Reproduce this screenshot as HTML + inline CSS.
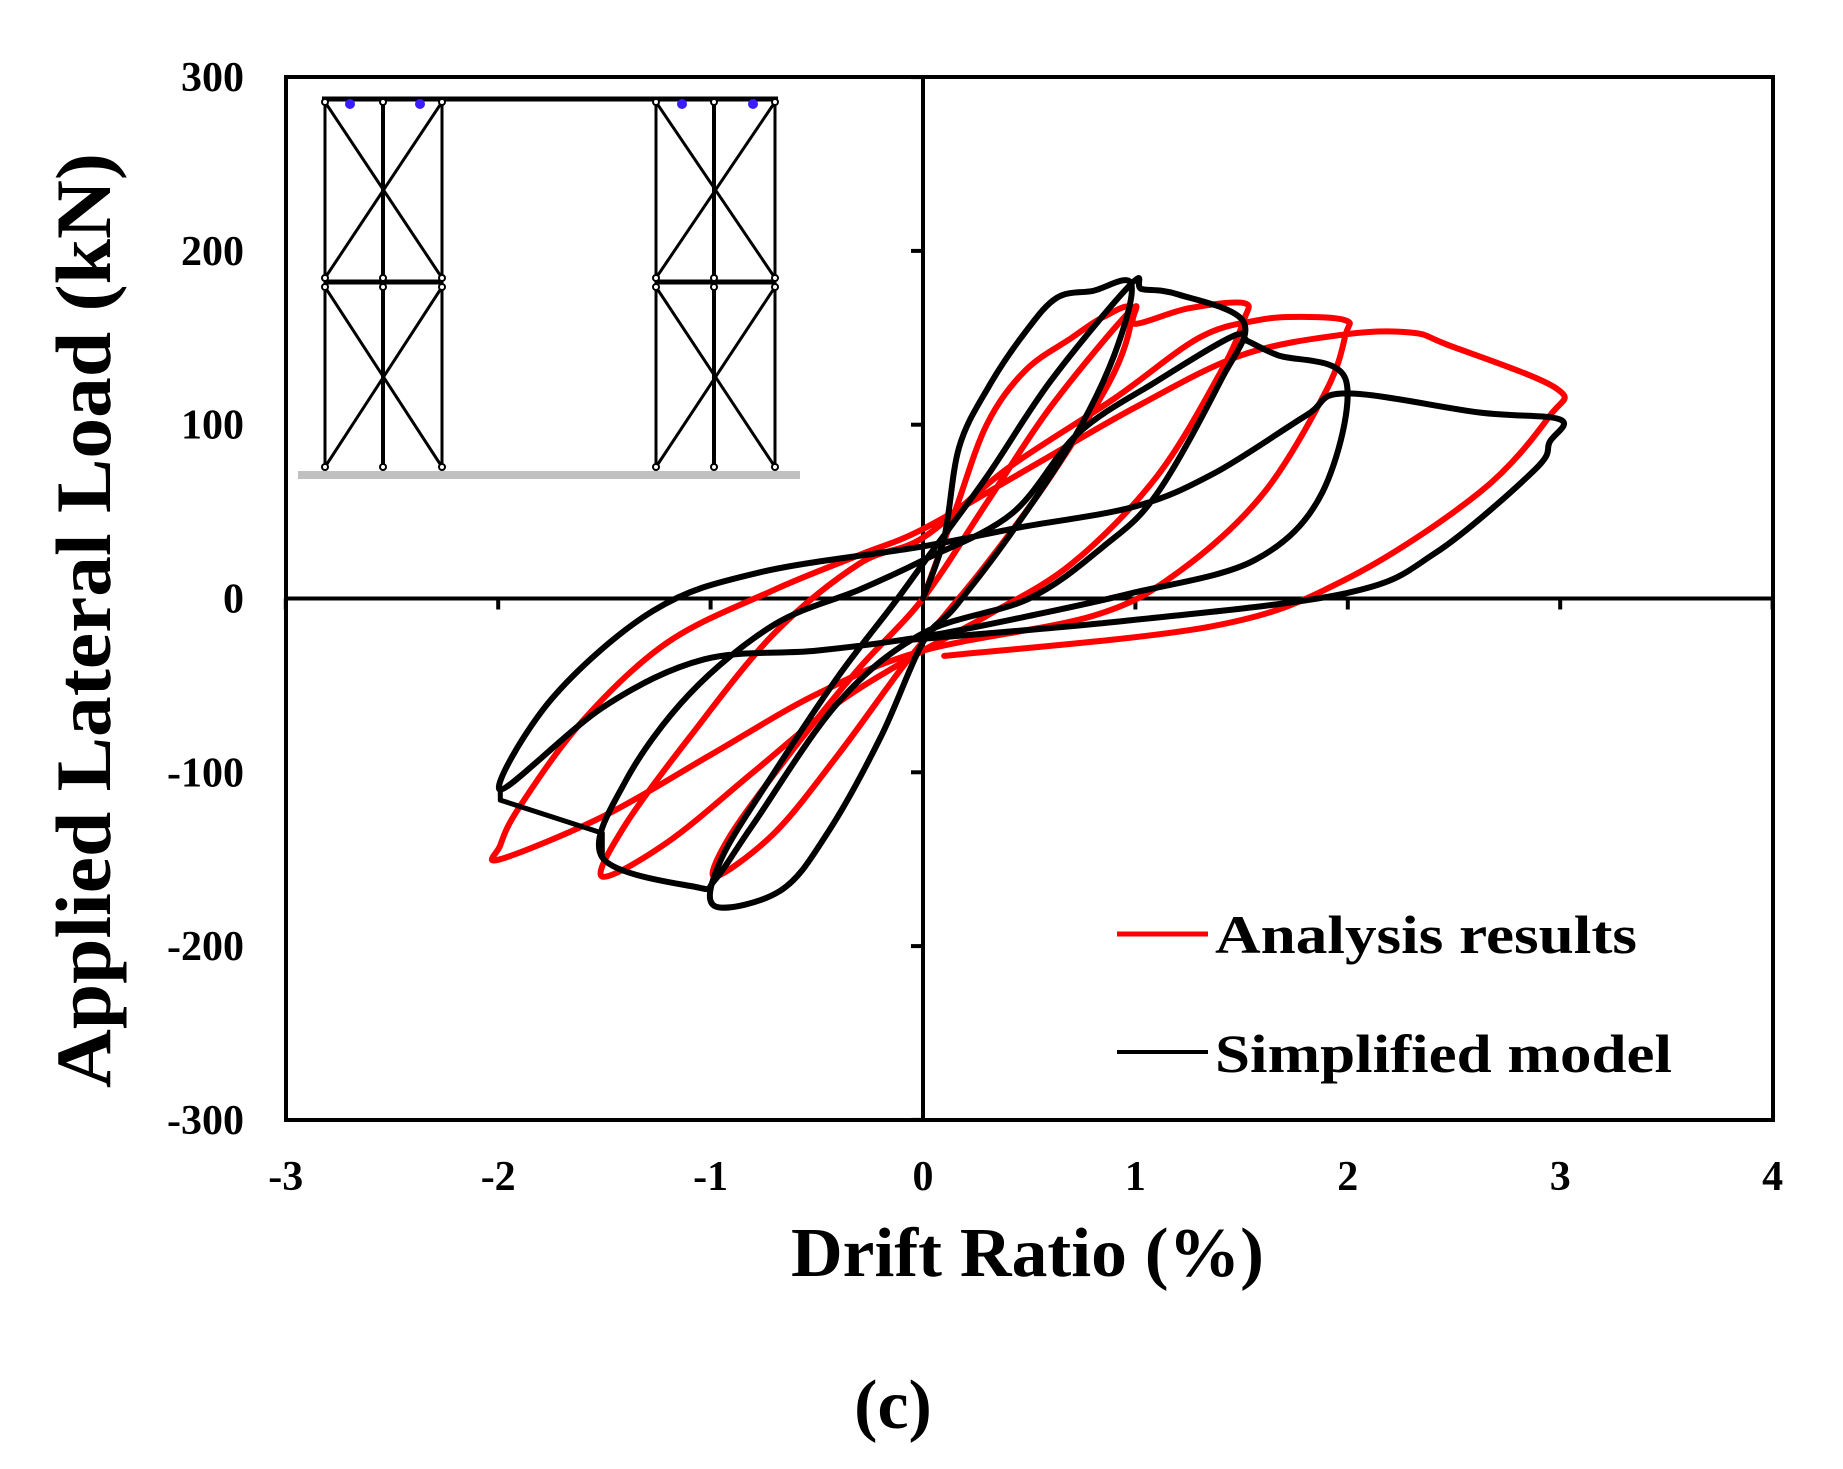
<!DOCTYPE html>
<html><head><meta charset="utf-8"><style>
html,body{margin:0;padding:0;background:#fff;}
svg{display:block;}
text{font-family:"Liberation Serif",serif;font-weight:bold;fill:#000;}
</style></head><body>
<svg id="chart" width="1843" height="1469" viewBox="0 0 1843 1469" xmlns="http://www.w3.org/2000/svg">
<rect x="286" y="77" width="1487" height="1043" fill="#fff" stroke="#000" stroke-width="4"/>
<g id="inset"></g>
<g id="axes"></g>
<g id="series"></g>
<g>
<line x1="1117" y1="934" x2="1208" y2="934" stroke="#f00" stroke-width="5"/>
<text x="1215" y="953" font-size="54" textLength="422" lengthAdjust="spacingAndGlyphs">Analysis results</text>
<line x1="1117" y1="1052" x2="1208" y2="1052" stroke="#000" stroke-width="4"/>
<text x="1215" y="1072" font-size="54" textLength="457" lengthAdjust="spacingAndGlyphs">Simplified model</text>
</g>
<text x="791" y="1276" font-size="70" textLength="473" lengthAdjust="spacingAndGlyphs">Drift Ratio (%)</text>
<text transform="translate(110,1088) rotate(-90)" font-size="78" textLength="935" lengthAdjust="spacingAndGlyphs">Applied Lateral Load (kN)</text>
<text x="893" y="1428" font-size="70" text-anchor="middle">(c)</text>
</svg>
<script>
const xTicks=[-3,-2,-1,0,1,2,3,4];
const yTicks=[-300,-200,-100,0,100,200,300];
const redX=[0,0.15,0.3,0.48,0.7,0.85,0.98,0.9,0.6,0.3,0.1,-0.1,-0.4,-0.7,-0.98,-0.9,-0.6,-0.3,0,0.3,0.6,0.98,1.0,1.25,1.51,1.51,1.4,1.1,0.7,0.3,0,-0.4,-0.8,-1.2,-1.51,-1.4,-1.1,-0.7,-0.3,0,0.4,0.9,1.3,1.57,1.78,1.99,1.99,1.9,1.6,1.2,0.8,0,-0.5,-1.0,-1.5,-1.99,-1.99,-1.9,-1.6,-1.2,-0.7,-0.3,0,0.5,1.0,1.5,1.99,2.3,2.47,2.98,2.95,2.62,1.99,1.36,0.1];
const redY=[0,50,100,131,150,162,166,130,70,20,-10,-40,-90,-135,-160,-135,-85,-40,0,55,110,166,158,167,170,160,130,70,20,-10,-30,-60,-100,-140,-160,-130,-80,-20,20,35,75,115,150,160,162,160,152,120,60,15,-10,-30,-55,-90,-125,-150,-142,-120,-70,-25,5,25,40,75,110,140,152,153,146,121,105,61,11,-16,-33];
const blackX=[0,0.1,0.17,0.31,0.48,0.63,0.8,0.98,0.9,0.7,0.4,0.15,0,-0.2,-0.45,-0.67,-0.98,-0.95,-0.7,-0.4,-0.15,0,0.3,0.6,0.98,1.03,1.2,1.51,1.4,1.1,0.85,0.5,0,-0.4,-0.8,-0.98,-1.07,-1.51,-1.4,-1.1,-0.7,-0.3,0,0.42,0.73,1.1,1.46,1.53,1.67,1.99,1.88,1.56,0.98,0.5,0,-0.5,-1.03,-1.5,-1.99,-1.75,-1.27,-0.77,0,0.46,1.0,1.37,1.8,1.99,2.62,3,2.95,2.88,2.41,1.99,0.94,-0.08];
const blackY=[0,35,87,122,153,173,177,181,140,90,35,-5,-25,-80,-135,-168,-177,-150,-100,-45,-5,20,70,125,181,178,175,159,125,60,30,0,-20,-60,-130,-162,-166,-149,-105,-55,-15,5,22,49,95,125,151,148,140,126,61,22,3,-10,-22,-30,-35,-62,-110,-58,-7,15,30,41,53,72,105,118,107,103,90,74,26,3,-13,-24];
const blackKinkX=[-1.99,-1.99,-1.51,-1.51];
const blackKinkY=[-110,-116,-135,-149];
const NS="http://www.w3.org/2000/svg";
const X0=923,XU=212.4,Y0=598.5,YU=1.738;
function sx(v){return X0+v*XU;}
function sy(v){return Y0-v*YU;}
function mk(tag,attrs,parent){const e=document.createElementNS(NS,tag);for(const k in attrs)e.setAttribute(k,attrs[k]);parent.appendChild(e);return e;}
const axes=document.getElementById('axes');
let l=mk('line',{x1:286,y1:sy(0),x2:1773,y2:sy(0),stroke:'#000','stroke-width':4},axes);


l=mk('line',{x1:sx(0),y1:77,x2:sx(0),y2:1120,stroke:'#000','stroke-width':4},axes);


xTicks.forEach(t=>{
 const tk=mk('line',{x1:sx(t),y1:sy(0),x2:sx(t),y2:sy(0)+11,stroke:'#000','stroke-width':4},axes);
 
 
 const tx=mk('text',{x:sx(t),y:1190,'font-size':42,'text-anchor':'middle'},axes);
 tx.textContent=t;
 
 
});
yTicks.forEach(t=>{
 const tk=mk('line',{x1:sx(0)-12,y1:sy(t),x2:sx(0),y2:sy(t),stroke:'#000','stroke-width':4},axes);
 
 
 const tx=mk('text',{x:244,y:sy(t)+14,'font-size':42,'text-anchor':'end'},axes);
 tx.textContent=t;
 
 
});
const ser=document.getElementById('series');
function smoothPath(xs,ys){
 const P=xs.map((x,i)=>[sx(x),sy(ys[i])]);
 let d='M'+P[0][0].toFixed(1)+' '+P[0][1].toFixed(1);
 for(let i=0;i<P.length-1;i++){
  const p0=P[Math.max(i-1,0)],p1=P[i],p2=P[i+1],p3=P[Math.min(i+2,P.length-1)];
  const c1=[p1[0]+(p2[0]-p0[0])/6,p1[1]+(p2[1]-p0[1])/6];
  const c2=[p2[0]-(p3[0]-p1[0])/6,p2[1]-(p3[1]-p1[1])/6];
  d+=' C'+c1[0].toFixed(1)+' '+c1[1].toFixed(1)+' '+c2[0].toFixed(1)+' '+c2[1].toFixed(1)+' '+p2[0].toFixed(1)+' '+p2[1].toFixed(1);
 }
 return d;
}
function drawSeries(xs,ys,color,name,w){
 const p=mk('path',{d:smoothPath(xs,ys),fill:'none',stroke:color,'stroke-width':w,'stroke-linejoin':'round','stroke-linecap':'round'},ser);
 
 
}
drawSeries(redX,redY,'#f00','analysis-results-curve',6);
drawSeries(blackX,blackY,'#000','simplified-model-curve',6);
const kd=blackKinkX.map((x,i)=>(i?'L':'M')+sx(x).toFixed(1)+' '+sy(blackKinkY[i]).toFixed(1)).join(' ');
const kp=mk('path',{d:kd,fill:'none',stroke:'#000','stroke-width':5,'stroke-linejoin':'round'},ser);


// inset frame
const ins=document.getElementById('inset');
mk('rect',{x:298,y:471,width:502,height:8,fill:'#c0c0c0'},ins);
mk('line',{x1:322,y1:99,x2:778,y2:99,stroke:'#000','stroke-width':5},ins);
[[325,383,442],[656,714,775]].forEach(cols=>{
 mk('line',{x1:cols[0],y1:282,x2:cols[2],y2:282,stroke:'#000','stroke-width':5},ins);
 cols.forEach((c,i)=>mk('line',{x1:c,y1:101,x2:c,y2:467,stroke:'#000','stroke-width':i==1?4:3},ins));
 [[102,278],[287,467]].forEach(([a,b])=>{
  mk('line',{x1:cols[0],y1:a,x2:cols[2],y2:b,stroke:'#000','stroke-width':3},ins);
  mk('line',{x1:cols[2],y1:a,x2:cols[0],y2:b,stroke:'#000','stroke-width':3},ins);
 });
 cols.forEach(c=>[102,278,287,467].forEach(y=>mk('circle',{cx:c,cy:y,r:3,fill:'#fff',stroke:'#000','stroke-width':2},ins)));
});
[350,420,682,753].forEach(x=>mk('circle',{cx:x,cy:104,r:5,fill:'#3a1cff'},ins));
</script>
</body></html>
